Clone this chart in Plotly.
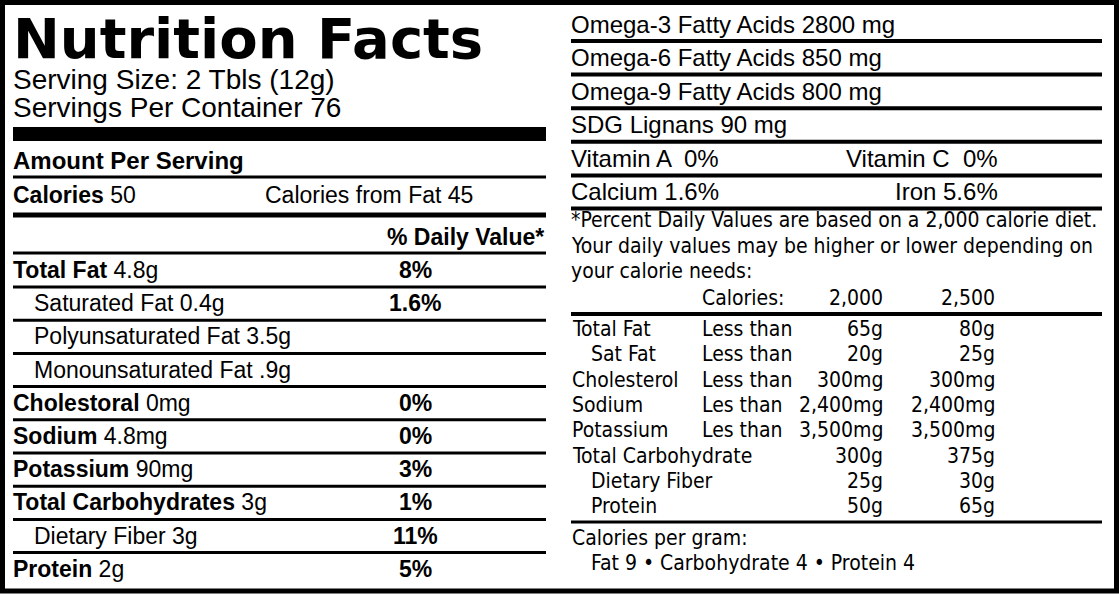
import plotly.graph_objects as go

W, H = 1119, 594
REG = "Liberation Sans, Arial, sans-serif"
NARROW = "Liberation Sans Narrow, DejaVu Sans Condensed, sans-serif"

# left panel data
nutrients = ["Total Fat", "Saturated Fat", "Polyunsaturated Fat", "Monounsaturated Fat",
             "Cholestoral", "Sodium", "Potassium", "Total Carbohydrates", "Dietary Fiber", "Protein"]
amounts = ["4.8g", "0.4g", "3.5g", ".9g", "0mg", "4.8mg", "90mg", "3g", "3g", "2g"]
daily_pct = ["8%", "1.6%", "", "", "0%", "0%", "3%", "1%", "11%", "5%"]
indented = [False, True, True, True, False, False, False, False, True, False]

# right panel data
extras = ["Omega-3 Fatty Acids 2800 mg", "Omega-6 Fatty Acids 850 mg",
          "Omega-9 Fatty Acids 800 mg", "SDG Lignans 90 mg"]
vitamins = [("Vitamin A  0%", "Vitamin C  0%"), ("Calcium 1.6%", "Iron 5.6%")]
footnote = ["*Percent Daily Values are based on a 2,000 calorie diet.",
            "Your daily values may be higher or lower depending on",
            "your calorie needs:"]
dv_names = ["Total Fat", "  Sat Fat", "Cholesterol", "Sodium", "Potassium",
            "Total Carbohydrate", "  Dietary Fiber", "  Protein"]
dv_limit = ["Less than", "Less than", "Less than", "Les than", "Les than", "", "", ""]
dv_2000 = ["65g", "20g", "300mg", "2,400mg", "3,500mg", "300g", "25g", "50g"]
dv_2500 = ["80g", "25g", "300mg", "2,400mg", "3,500mg", "375g", "30g", "65g"]

fig = go.Figure()
shapes = []
ann = []

def line(x0, x1, y, w):
    shapes.append(dict(type="rect", x0=x0, x1=x1, y0=y - w / 2, y1=y + w / 2,
                       fillcolor="black", line_width=0))

def text(x, y, s, size, anchor="left", font=REG):
    ann.append(dict(x=x, y=y, text=s, showarrow=False, xanchor=anchor, yanchor="middle",
                    font=dict(family=font, size=size, color="black")))

# border
shapes.append(dict(type="rect", x0=2.5, x1=W - 2.5, y0=2.5, y1=H - 3,
                   line=dict(color="black", width=5)))

# left header
text(11, 38, "<b>Nutrition Facts</b>", 56, font="DejaVu Sans, sans-serif")
text(11, 79, "Serving Size: 2 Tbls (12g)", 28)
text(11, 107, "Servings Per Container 76", 28)
line(13, 546, 134, 14)
text(11, 160, "<b>Amount Per Serving</b>", 24)
line(13, 546, 177, 3)
text(11, 195, "<b>Calories</b> 50", 23)
text(263, 195, "Calories from Fat 45", 23)
line(13, 546, 215, 5)
text(546, 237, "<b>% Daily Value*</b>", 23, "right")
line(13, 546, 253, 3)

y = 270
for i, n in enumerate(nutrients):
    if indented[i]:
        text(32, y, f"{n} {amounts[i]}", 23)
    else:
        text(11, y, f"<b>{n}</b> {amounts[i]}", 23)
    if daily_pct[i]:
        text(415, y, f"<b>{daily_pct[i]}</b>", 23, "center")
    if i < len(nutrients) - 1:
        line(13, 546, y + 17, 3)
    y += 33.2

# right panel
y = 24
for e in extras:
    text(569, y, e, 24)
    line(571, 1102, y + 17, 4)
    y += 33.6
for a, b in vitamins:
    text(569, y, a, 24)
    text(1000, y, b, 24, "right")
    line(571, 1102, y + 17, 4)
    y += 33
for k, s in enumerate(footnote):
    text(569, 220 + k * 25.5, s, 21, font=NARROW)
text(700, 298, "Calories:", 21, font=NARROW)
text(885, 298, "2,000", 21, "right", font=NARROW)
text(997, 298, "2,500", 21, "right", font=NARROW)
line(571, 1102, 314, 4)
for k in range(len(dv_names)):
    yy = 329 + k * 25.3
    name = dv_names[k]
    xx = 570 + (19 if name.startswith("  ") else 0)
    text(xx, yy, name.strip(), 21, font=NARROW)
    if dv_limit[k]:
        text(700, yy, dv_limit[k], 21, font=NARROW)
    text(885, yy, dv_2000[k], 21, "right", font=NARROW)
    text(997, yy, dv_2500[k], 21, "right", font=NARROW)
line(571, 1102, 522, 3)
text(570, 538, "Calories per gram:", 21, font=NARROW)
text(589, 563, "Fat 9 • Carbohydrate 4 • Protein 4", 21, font=NARROW)

fig.update_layout(width=W, height=H, margin=dict(l=0, r=0, t=0, b=0),
                  paper_bgcolor="white", plot_bgcolor="white",
                  xaxis=dict(range=[0, W], visible=False, fixedrange=True),
                  yaxis=dict(range=[H, 0], visible=False, fixedrange=True),
                  shapes=shapes, annotations=ann, showlegend=False)
fig.write_html("out.html", config={"displayModeBar": False})

# drop the default body margin so the label sits flush in the window
with open("out.html", encoding="utf-8") as f:
    page = f.read()
page = page.replace("<body>", '<body style="margin:0;overflow:hidden">', 1)
with open("out.html", "w", encoding="utf-8") as f:
    f.write(page)
